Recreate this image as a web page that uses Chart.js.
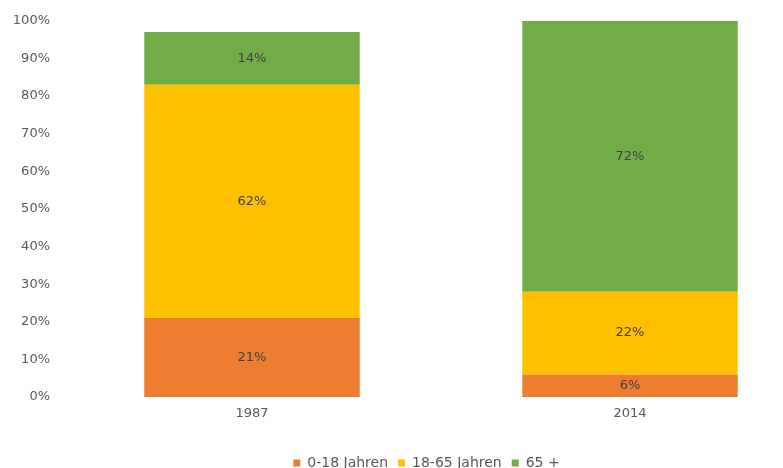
<!DOCTYPE html>
<html>
<head>
<meta charset="utf-8">
<script src="https://cdn.jsdelivr.net/npm/chart.js@4/dist/chart.umd.min.js"></script>
<style>
  html, body { margin: 0; padding: 0; background: #fff; overflow: hidden; }
  #wrap { width: 852px; height: 480px; }
</style>
</head>
<body>
<div id="wrap"><canvas id="myChart" width="852" height="480"></canvas></div>
<script>
const years = ['1987', '2014'];
const young = [21, 6];
const working = [62, 22];
const old = [14, 72];
const seriesNames = ['0-18 Jahren', '18-65 Jahren', '65 +'];
const seriesColors = ['#ED7D31', '#FFC000', '#70AD47'];

const fontFam = '"DejaVu Sans", Arial, sans-serif';

// draws the percent text in the middle of every segment
const segmentLabels = {
    id: 'segmentLabels',
    afterDatasetsDraw(chart) {
        const ctx = chart.ctx;
        ctx.save();
        ctx.font = '13px ' + fontFam;
        ctx.fillStyle = '#404040';
        ctx.textAlign = 'center';
        ctx.textBaseline = 'middle';
        chart.data.datasets.forEach((ds, i) => {
            chart.getDatasetMeta(i).data.forEach((bar, j) => {
                const mid = (bar.y + bar.base) / 2;
                ctx.fillText(ds.data[j] + '%', bar.x, mid);
            });
        });
        ctx.restore();
    }
};

// nudge the legend a bit to the right, like in the original
const legendShift = {
    id: 'legendShift',
    afterLayout(chart) {
        if (chart.legend) {
            chart.legend.left += 17;
            chart.legend.right += 17;
        }
    }
};

const ctx = document.getElementById('myChart').getContext('2d');
new Chart(ctx, {
    type: 'bar',
    data: {
        labels: years,
        datasets: [
            { label: seriesNames[0], data: young, backgroundColor: seriesColors[0] },
            { label: seriesNames[1], data: working, backgroundColor: seriesColors[1] },
            { label: seriesNames[2], data: old, backgroundColor: seriesColors[2] }
        ]
    },
    options: {
        responsive: false,
        animation: false,
        layout: { padding: { top: 16, right: 33, left: 0, bottom: 0 } },
        datasets: {
            bar: { categoryPercentage: 1, barPercentage: 0.57 }
        },
        plugins: {
            legend: {
                position: 'bottom',
                labels: {
                    boxWidth: 7,
                    boxHeight: 7,
                    padding: 10,
                    color: '#595959',
                    font: { size: 14, family: fontFam }
                }
            },
            tooltip: { enabled: false }
        },
        scales: {
            x: {
                stacked: true,
                afterFit: (scale) => { scale.height = 49; },
                grid: { display: false, drawTicks: false },
                border: { display: false },
                ticks: { padding: 9, color: '#595959', font: { size: 13, family: fontFam } }
            },
            y: {
                stacked: true,
                min: 0,
                max: 100,
                afterFit: (scale) => { scale.width = 63; },
                grid: { display: false, drawTicks: false },
                border: { display: false },
                ticks: {
                    stepSize: 10,
                    padding: 13,
                    color: '#595959',
                    font: { size: 13, family: fontFam },
                    callback: (v) => v + '%'
                }
            }
        }
    },
    plugins: [segmentLabels, legendShift]
});
</script>
</body>
</html>
